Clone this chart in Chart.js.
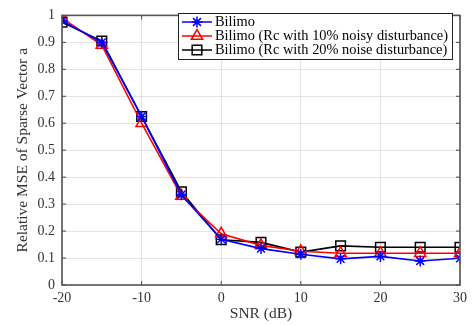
<!DOCTYPE html>
<html><head><meta charset="utf-8">
<script src="https://cdn.jsdelivr.net/npm/chart.js@4/dist/chart.umd.min.js"></script>
<style>html,body{margin:0;padding:0;background:#fff}#w{width:473px;height:325px}</style>
</head><body><div id="w"><canvas id="c"></canvas></div>
<script>
const snr = [-20,-15,-10,-5,0,5,10,15,20,25,30];
const bilimo = [0.98,0.90,0.625,0.335,0.17,0.135,0.114,0.097,0.106,0.089,0.099];
const noisy10 = [0.99,0.89,0.60,0.33,0.19,0.147,0.125,0.118,0.118,0.118,0.118];
const noisy20 = [0.975,0.905,0.625,0.346,0.168,0.158,0.122,0.145,0.14,0.14,0.14];
const labels = ['Bilimo','Bilimo (Rc with 10% noisy disturbance)','Bilimo (Rc with 20% noise disturbance)'];
const yTicks = [0,0.1,0.2,0.3,0.4,0.5,0.6,0.7,0.8,0.9,1];
const xTicks = [-20,-10,0,10,20,30];
const F = "'Liberation Serif','Times New Roman',serif";

const frame = {
  id:'frame',
  afterDraw(ch){
    const {ctx, chartArea:a, scales} = ch;
    ctx.save();
    ctx.strokeStyle='#444'; ctx.lineWidth=1;
    xTicks.forEach(v=>{const x=scales.x.getPixelForValue(v);
      ctx.beginPath();ctx.moveTo(x,a.top);ctx.lineTo(x,a.top+4);ctx.stroke();
      ctx.beginPath();ctx.moveTo(x,a.bottom);ctx.lineTo(x,a.bottom-4);ctx.stroke();});
    yTicks.forEach(v=>{const y=scales.y.getPixelForValue(v);
      ctx.beginPath();ctx.moveTo(a.right,y);ctx.lineTo(a.right-4,y);ctx.stroke();
      ctx.beginPath();ctx.moveTo(a.left,y);ctx.lineTo(a.left+4,y);ctx.stroke();});
    ctx.lineWidth=1.6; ctx.strokeStyle='#555';
    ctx.strokeRect(a.left,a.top,a.right-a.left,a.bottom-a.top);
    // legend box
    const lx=178, ly=13, lw=274, lh=46;
    ctx.fillStyle='#fff'; ctx.fillRect(lx,ly,lw,lh);
    ctx.lineWidth=1; ctx.strokeStyle='#222'; ctx.strokeRect(lx+0.5,ly+0.5,lw,lh);
    ctx.font='14.4px '+F; ctx.textBaseline='middle';
    ch.data.datasets.forEach((d,i)=>{
      const y=ly+9+i*14;
      ctx.strokeStyle=d.borderColor; ctx.lineWidth=1.5;
      ctx.beginPath();ctx.moveTo(lx+4,y);ctx.lineTo(lx+34,y);ctx.stroke();
      ctx.fillStyle='rgba(0,0,0,0)';
      Chart.helpers.drawPoint(ctx,{pointStyle:d.pointStyle,radius:d.pointRadius,borderWidth:1.5},lx+19,y);
      ctx.fillStyle='#000';
      ctx.fillText(d.label,lx+37,y+0.5);
    });
    ctx.restore();
  }
};

new Chart(document.getElementById('c'),{
  type:'line',
  data:{datasets:[
    {label:labels[0],data:snr.map((x,i)=>({x,y:bilimo[i]})),borderColor:'#0000ff',backgroundColor:'transparent',pointStyle:'star',pointRadius:5.5,pointBorderWidth:1.5,borderWidth:1.6,tension:0},
    {label:labels[1],data:snr.map((x,i)=>({x,y:noisy10[i]})),borderColor:'#ff0000',backgroundColor:'transparent',pointStyle:'triangle',pointRadius:6.5,pointBorderWidth:1.5,borderWidth:1.6,tension:0},
    {label:labels[2],data:snr.map((x,i)=>({x,y:noisy20[i]})),borderColor:'#000000',backgroundColor:'transparent',pointStyle:'rect',pointRadius:6.8,pointBorderWidth:1.5,borderWidth:1.6,tension:0}
  ]},
  options:{
    responsive:true, maintainAspectRatio:false, animation:false,
    layout:{padding:{top:5,right:13,left:0,bottom:0}},
    plugins:{legend:{display:false},tooltip:{enabled:false}},
    scales:{
      x:{type:'linear',min:-20,max:30,
        afterBuildTicks(s){s.ticks=xTicks.map(v=>({value:v}));},
        afterFit(s){s.height=40;},
        grid:{color:'#e4e4e4',drawTicks:false},
        border:{display:false},
        ticks:{color:'#333',font:{family:F,size:14},padding:5,maxRotation:0},
        title:{display:true,text:'SNR (dB)',color:'#333',font:{family:F,size:15.5},padding:{top:0,bottom:2}}
      },
      y:{min:0,max:1,
        afterBuildTicks(s){s.ticks=yTicks.map(v=>({value:v}));},
        afterFit(s){s.width=62;},
        grid:{color:'#e4e4e4',drawTicks:false},
        border:{display:false},
        ticks:{color:'#333',font:{family:F,size:14},padding:7,callback:v=>String(v)},
        title:{display:true,text:'Relative MSE of Sparse Vector a',color:'#333',font:{family:F,size:15.5},padding:{top:14,bottom:0}}
      }
    }
  },
  plugins:[frame]
});
</script>
</body></html>
